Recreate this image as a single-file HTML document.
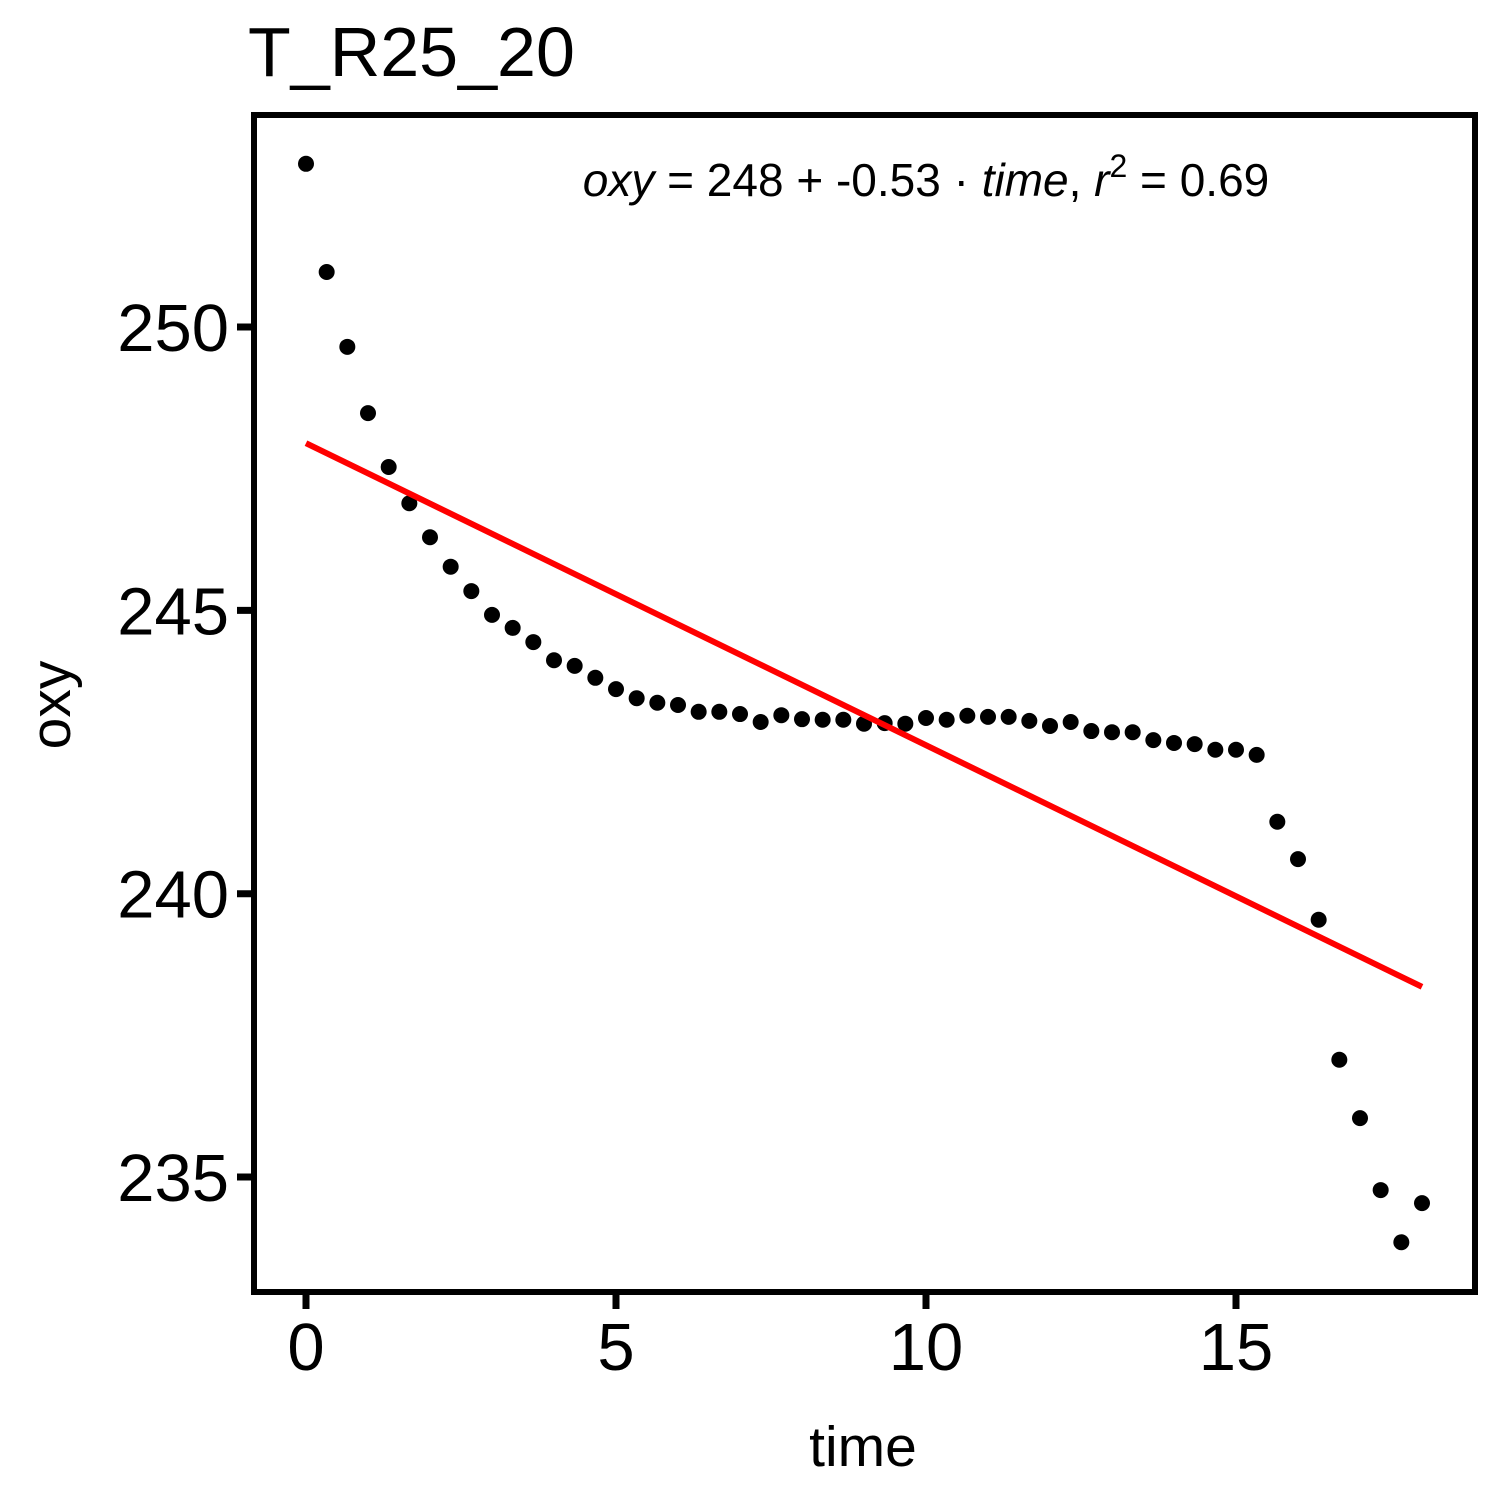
<!DOCTYPE html>
<html><head><meta charset="utf-8"><style>
html,body{margin:0;padding:0;background:#fff;}
svg{display:block;font-family:"Liberation Sans",Arial,sans-serif;}
</style></head><body>
<svg id="chart" width="1500" height="1500" viewBox="0 0 1500 1500">
<text x="248" y="76" font-size="70">T_R25_20</text>
<g id="plot"></g>
<rect x="254" y="115" width="1221" height="1177" fill="none" stroke="#000" stroke-width="6"/>
<text x="926" y="196" font-size="46" text-anchor="middle"><tspan font-style="italic">oxy</tspan> = 248 + -0.53 · <tspan font-style="italic">time</tspan>,  <tspan font-style="italic">r</tspan><tspan dy="-19" font-size="32">2</tspan><tspan dy="19"> = 0.69</tspan></text>
<text x="863" y="1466" font-size="57" text-anchor="middle">time</text>
<text transform="translate(70,705) rotate(-90)" font-size="57" text-anchor="middle">oxy</text>
</svg>
<script>
const times = [];
for (let i = 0; i < 55; i++) times.push(i / 3);
const oxyValues = [252.88,250.97,249.65,248.48,247.53,246.89,246.29,245.77,245.34,244.92,
244.69,244.44,244.12,244.02,243.81,243.61,243.45,243.37,243.33,243.21,
243.21,243.17,243.03,243.15,243.08,243.07,243.07,243.00,243.01,243.00,
243.10,243.07,243.14,243.12,243.12,243.05,242.96,243.03,242.87,242.85,
242.85,242.71,242.66,242.64,242.54,242.54,242.45,241.27,240.61,239.54,
237.07,236.04,234.77,233.85,234.54];
const xTicks = [0,5,10,15];
const yTicks = [235,240,245,250];
const fitIntercept = 247.95;
const fitSlope = -0.533;

const NS = 'http://www.w3.org/2000/svg';
const sx = t => 306 + t * 62;
const sy = v => 327 + (250 - v) * 56.67;
const g = document.getElementById('plot');
const svg = document.getElementById('chart');

xTicks.forEach(t => {
  const l = document.createElementNS(NS,'line');
  l.setAttribute('x1',sx(t));l.setAttribute('x2',sx(t));
  l.setAttribute('y1',1292);l.setAttribute('y2',1309);
  l.setAttribute('stroke','#000');l.setAttribute('stroke-width','7');
  
  
  svg.appendChild(l);
  const tx = document.createElementNS(NS,'text');
  tx.setAttribute('x',sx(t));tx.setAttribute('y',1370);
  tx.setAttribute('font-size','67');tx.setAttribute('text-anchor','middle');
  tx.textContent = t;
  
  
  svg.appendChild(tx);
});
yTicks.forEach(v => {
  const l = document.createElementNS(NS,'line');
  l.setAttribute('x1',237);l.setAttribute('x2',254);
  l.setAttribute('y1',sy(v));l.setAttribute('y2',sy(v));
  l.setAttribute('stroke','#000');l.setAttribute('stroke-width','7');
  
  
  svg.appendChild(l);
  const tx = document.createElementNS(NS,'text');
  tx.setAttribute('x',229);tx.setAttribute('y',sy(v)+24);
  tx.setAttribute('font-size','67');tx.setAttribute('text-anchor','end');
  tx.textContent = v;
  
  
  svg.appendChild(tx);
});
times.forEach((t,i) => {
  const c = document.createElementNS(NS,'circle');
  c.setAttribute('cx',sx(t));c.setAttribute('cy',sy(oxyValues[i]));
  c.setAttribute('r','8');c.setAttribute('fill','#000');
  
  
  g.appendChild(c);
});
const t0 = times[0], t1 = times[times.length-1];
const fl = document.createElementNS(NS,'line');
fl.setAttribute('x1',sx(t0));fl.setAttribute('y1',sy(fitIntercept+fitSlope*t0));
fl.setAttribute('x2',sx(t1));fl.setAttribute('y2',sy(fitIntercept+fitSlope*t1));
fl.setAttribute('stroke','#ff0000');fl.setAttribute('stroke-width','6');


g.appendChild(fl);
</script>
</body></html>
